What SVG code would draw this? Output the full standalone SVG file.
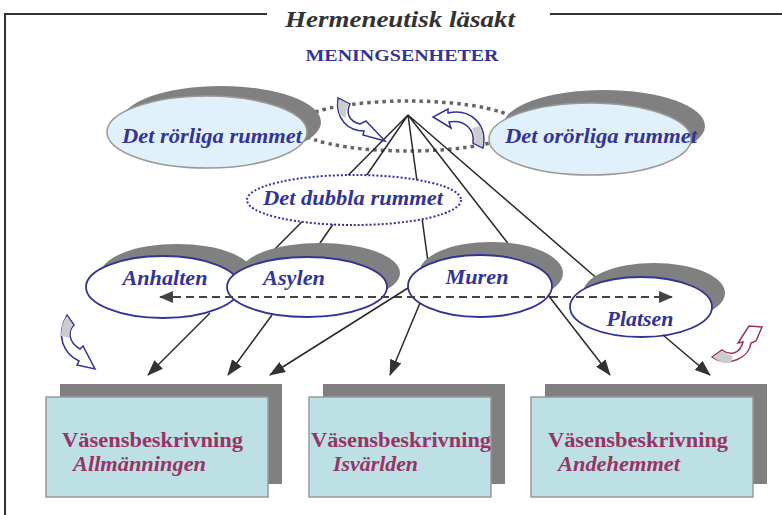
<svg xmlns="http://www.w3.org/2000/svg" width="782" height="515" viewBox="0 0 782 515">
<defs>
<style>
.frame{stroke:#333;stroke-width:2;fill:none}
.title{font-family:"Liberation Serif",serif;font-weight:bold;font-style:italic;fill:#333}
.hdr{font-family:"Liberation Serif",serif;font-weight:bold;fill:#333399}
.lbl{font-family:"Liberation Serif",serif;font-weight:bold;font-style:italic;fill:#333399;font-size:21px}
.shadow{fill:#808080}
.topell{fill:#E1F1FB;stroke:#999;stroke-width:1.5}
.ell{fill:#fff;stroke:#333399;stroke-width:1.8}
.box{fill:#BCE0E3;stroke:#999;stroke-width:1.5}
.bt{font-family:"Liberation Serif",serif;font-weight:bold;fill:#993366;font-size:21px}
.bi{font-family:"Liberation Serif",serif;font-weight:bold;font-style:italic;fill:#993366;font-size:20px}
.ln{stroke:#2a2a2a;stroke-width:1.5;fill:none}
.arr{stroke:#2a2a2a;stroke-width:1.5;fill:none;marker-end:url(#ah)}
.cb{fill:#fff;stroke:#333399;stroke-width:1.5}
.cm{fill:#fff;stroke:#993366;stroke-width:1.5}
.cg{fill:#ccc;stroke:none}
</style>
<marker id="ah" markerUnits="userSpaceOnUse" markerWidth="16" markerHeight="12" refX="15" refY="6" orient="auto">
<path d="M0,0 L16,6 L0,12 Z" fill="#333"/>
</marker>
<marker id="dh" markerUnits="userSpaceOnUse" markerWidth="14" markerHeight="12" refX="13" refY="6" orient="auto-start-reverse">
<path d="M0,0 L14,6 L0,12 Z" fill="#444"/>
</marker>
</defs>
<rect width="782" height="515" fill="#fff"/>

<g id="frame">
<path class="frame" d="M5,515 L5,14 L267,14 M550,14 L782,14"/>
<text class="title" x="400" y="27" font-size="24" text-anchor="middle" textLength="230" lengthAdjust="spacingAndGlyphs">Hermeneutisk läsakt</text>
<text class="hdr" x="402" y="61" font-size="17" text-anchor="middle" textLength="193" lengthAdjust="spacingAndGlyphs">MENINGSENHETER</text>
</g>

<g id="connectors">
<ellipse cx="408" cy="126" rx="112" ry="25" fill="none" stroke="#666" stroke-width="3.5" stroke-dasharray="3.5 4"/>
<path class="ln" d="M408,115 L268,256 M408,115 L316,249 M408,115 L428,262 M408,115 L510,246 M408,115 L600,281"/>
</g>

<g id="node-rorliga">
<ellipse class="shadow" cx="221" cy="122" rx="100" ry="36"/>
<ellipse class="topell" cx="207" cy="132" rx="100" ry="36"/>
<text class="lbl" x="212" y="143" text-anchor="middle" textLength="180" lengthAdjust="spacingAndGlyphs">Det rörliga rummet</text>
</g>

<g id="node-ororliga">
<ellipse class="shadow" cx="604" cy="126" rx="101" ry="36"/>
<ellipse class="topell" cx="590" cy="139" rx="101" ry="36"/>
<text class="lbl" x="601" y="143" text-anchor="middle" textLength="192" lengthAdjust="spacingAndGlyphs">Det orörliga rummet</text>
</g>

<g id="node-dubbla">
<ellipse cx="354" cy="200" rx="107" ry="25" fill="#fff" stroke="#333399" stroke-width="2" stroke-dasharray="2 2"/>
<text class="lbl" x="353" y="205" text-anchor="middle" textLength="180" lengthAdjust="spacingAndGlyphs">Det dubbla rummet</text>
</g>

<g id="node-anhalten">
<ellipse class="shadow" cx="177" cy="275" rx="77" ry="31"/>
<ellipse class="ell" cx="163" cy="287" rx="77" ry="31"/>
<text class="lbl" x="165" y="285" text-anchor="middle" textLength="85" lengthAdjust="spacingAndGlyphs">Anhalten</text>
</g>

<g id="node-asylen">
<ellipse class="shadow" cx="320" cy="273" rx="80" ry="30"/>
<ellipse class="ell" cx="307" cy="287" rx="80" ry="30"/>
<text class="lbl" x="294" y="285" text-anchor="middle" textLength="62" lengthAdjust="spacingAndGlyphs">Asylen</text>
</g>

<g id="node-muren">
<ellipse class="shadow" cx="491" cy="273" rx="72" ry="31"/>
<ellipse class="ell" cx="480" cy="286" rx="72" ry="31"/>
<text class="lbl" x="477" y="284" text-anchor="middle" textLength="63" lengthAdjust="spacingAndGlyphs">Muren</text>
</g>

<g id="node-platsen">
<ellipse class="shadow" cx="654" cy="293" rx="71" ry="30"/>
<ellipse class="ell" cx="641" cy="307" rx="71" ry="30"/>
<text class="lbl" x="640" y="326" text-anchor="middle" textLength="67" lengthAdjust="spacingAndGlyphs">Platsen</text>
</g>

<g id="connectors-lower">
<line x1="160" y1="297" x2="672" y2="297" stroke="#444" stroke-width="2" stroke-dasharray="8 5" marker-start="url(#dh)" marker-end="url(#dh)"/>
<line class="arr" x1="210" y1="313" x2="148" y2="375"/>
<line class="arr" x1="272" y1="315" x2="228" y2="375"/>
<line class="arr" x1="408" y1="288" x2="270" y2="375"/>
<line class="arr" x1="420" y1="303" x2="390" y2="375"/>
<line class="arr" x1="548" y1="295" x2="610" y2="375"/>
<line class="arr" x1="663" y1="335" x2="710" y2="375"/>
</g>

<g id="curved-arrows">
<path class="cb" d="M338,98 L350,104 C346,112 348,121 360,124 L366,121 L385,141 L363,135 L364,131 C349,131 335,120 338,98 Z"/>
<path class="cg" d="M339,99 L349,104 C346,109 345,114 346,118 L340,115 C338,110 338,104 339,99 Z"/>
<path class="cb" d="M483,148 L473,143 C475,130 465,119 449,122 L451,128 L433,117 L448,109 L448,113 C470,108 488,124 483,148 Z"/>
<path class="cg" d="M482,147 L474,143 C475,137 474,132 472,128 L480,126 C483,133 484,140 482,147 Z"/>
<path class="cb" d="M67,315 L74,325 C68,331 68,342 80,349 L83,346 L95,369 L77,365 L79,361 C64,354 55,336 67,315 Z"/>
<path class="cg" d="M67,316 L73,325 C70,329 69,334 69,338 L61,336 C61,328 63,321 67,316 Z"/>
<path class="cm" d="M712,357 L722,350 C730,356 740,354 743,342 L738,343 L749,326 L762,327 L756,341 L751,343 C749,358 728,368 712,357 Z"/>
<path class="cg" d="M713,357 L722,351 C725,353 729,355 733,356 L731,363 C724,364 718,361 713,357 Z"/>
</g>

<g id="box-allmanningen">
<rect class="shadow" x="60" y="384" width="222" height="100"/>
<rect class="box" x="46" y="397" width="222" height="100"/>
<text class="bt" x="62" y="447" textLength="181" lengthAdjust="spacingAndGlyphs">Väsensbeskrivning</text>
<text class="bi" x="73" y="471" textLength="133" lengthAdjust="spacingAndGlyphs">Allmänningen</text>
</g>

<g id="box-isvarlden">
<rect class="shadow" x="323" y="384" width="182" height="100"/>
<rect class="box" x="309" y="397" width="182" height="100"/>
<text class="bt" x="311" y="447" textLength="180" lengthAdjust="spacingAndGlyphs">Väsensbeskrivning</text>
<text class="bi" x="333" y="471" textLength="85" lengthAdjust="spacingAndGlyphs">Isvärlden</text>
</g>

<g id="box-andehemmet">
<rect class="shadow" x="545" y="384" width="222" height="100"/>
<rect class="box" x="531" y="397" width="222" height="100"/>
<text class="bt" x="548" y="447" textLength="180" lengthAdjust="spacingAndGlyphs">Väsensbeskrivning</text>
<text class="bi" x="558" y="471" textLength="122" lengthAdjust="spacingAndGlyphs">Andehemmet</text>
</g>
</svg>
